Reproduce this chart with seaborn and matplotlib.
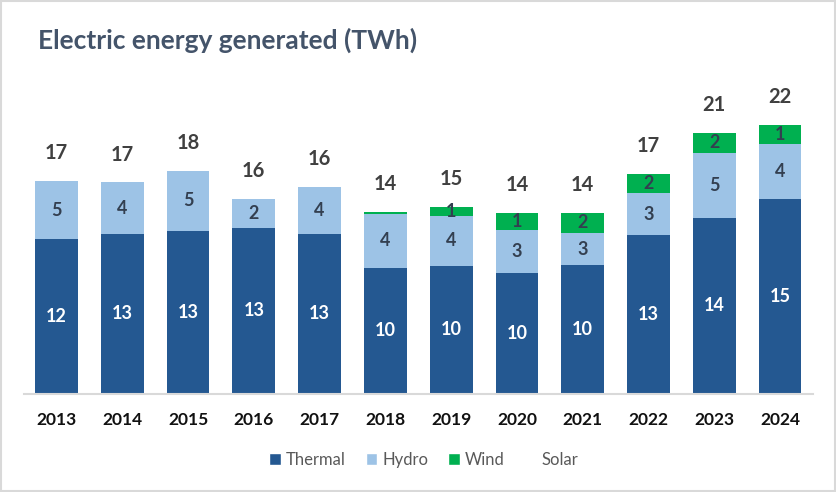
import matplotlib
matplotlib.use("Agg")
import matplotlib.pyplot as plt
from matplotlib.patches import Patch, Rectangle
import numpy as np
import pandas as pd
import seaborn as sns

# Data (TWh)
years = ["2013", "2014", "2015", "2016", "2017", "2018",
         "2019", "2020", "2021", "2022", "2023", "2024"]
thermal = [12.26, 12.66, 12.90, 13.13, 12.66, 9.96, 10.12, 9.55, 10.20, 12.55, 13.95, 15.44]
hydro = [4.60, 4.09, 4.76, 2.34, 3.71, 4.31, 3.97, 3.41, 2.52, 3.33, 5.12, 4.37]
wind = [0, 0, 0, 0, 0, 0.16, 0.71, 1.35, 1.63, 1.56, 1.63, 1.49]
solar = [0, 0, 0, 0, 0, 0, 0, 0, 0, 0, 0, 0]
totals = [17, 17, 18, 16, 16, 14, 15, 14, 14, 17, 21, 22]

C_THERMAL = "#245891"
C_HYDRO = "#9DC3E6"
C_WIND = "#00B050"

df = pd.DataFrame({"year": years, "thermal": thermal, "hydro": hydro,
                   "wind": wind, "solar": solar})
df["th_hy"] = df["thermal"] + df["hydro"]
df["top"] = df["th_hy"] + df["wind"] + df["solar"]

sns.set_style("white")
plt.rcParams["font.family"] = ["Lato", "DejaVu Sans"]

fig = plt.figure(figsize=(8.37, 4.92), dpi=100)
ax = fig.add_axes([0.0282, 0.2002, 0.9431, 0.6372])

# stacked bars drawn back to front with cumulative heights
sns.barplot(data=df, x="year", y="top", color=C_WIND, width=0.65,
            saturation=1, linewidth=0, ax=ax)
sns.barplot(data=df, x="year", y="th_hy", color=C_HYDRO, width=0.65,
            saturation=1, linewidth=0, ax=ax)
sns.barplot(data=df, x="year", y="thermal", color=C_THERMAL, width=0.65,
            saturation=1, linewidth=0, ax=ax)

ax.set_xlim(-0.5, 11.5)
ax.set_ylim(0, 24.88)
ax.set_xlabel("")
ax.set_ylabel("")
ax.set_yticks([])
for s in ["left", "right", "top"]:
    ax.spines[s].set_visible(False)
ax.spines["bottom"].set_color("#D9D9D9")
ax.spines["bottom"].set_linewidth(1.5)
ax.tick_params(axis="x", length=0, pad=13)
for lab in ax.get_xticklabels():
    lab.set_fontweight("bold")
    lab.set_fontsize(12.5)
    lab.set_color("#111111")

# segment labels
for i in range(len(years)):
    t, h, w = thermal[i], hydro[i], wind[i]
    if round(t) >= 1:
        ax.text(i, t / 2, f"{round(t)}", ha="center", va="center",
                color="white", fontsize=13, fontweight="bold")
    if round(h) >= 1:
        ax.text(i, t + h / 2, f"{round(h)}", ha="center", va="center",
                color="#333F50", fontsize=13, fontweight="bold")
    if round(w) >= 1:
        ax.text(i, t + h + w / 2, f"{round(w)}", ha="center", va="center",
                color="#333F50", fontsize=13, fontweight="bold")
    ax.annotate(f"{totals[i]}", (i, df["top"][i]), xytext=(0, 20),
                textcoords="offset points", ha="center", va="center",
                color="#404040", fontsize=14.5, fontweight="bold",
                annotation_clip=False)

fig.text(0.045, 0.919, "Electric energy generated (TWh)", ha="left",
         va="center", fontsize=19, fontweight="bold", color="#44546A")

handles = [Patch(facecolor=C_THERMAL, label="Thermal"),
           Patch(facecolor=C_HYDRO, label="Hydro"),
           Patch(facecolor=C_WIND, label="Wind"),
           Patch(facecolor="none", edgecolor="none", label="Solar")]
leg = fig.legend(handles=handles, loc="center", bbox_to_anchor=(0.506, 0.065),
                 ncol=4, frameon=False, fontsize=12, handlelength=0.7,
                 handleheight=0.7, handletextpad=0.3, columnspacing=1.2)
for txt in leg.get_texts():
    txt.set_color("#595959")

fig.patches.append(Rectangle((0.001, 0.002), 0.997, 0.995, transform=fig.transFigure,
                             fill=False, edgecolor="#D9D9D9", linewidth=1.5))

fig.savefig("out.png", dpi=100)
